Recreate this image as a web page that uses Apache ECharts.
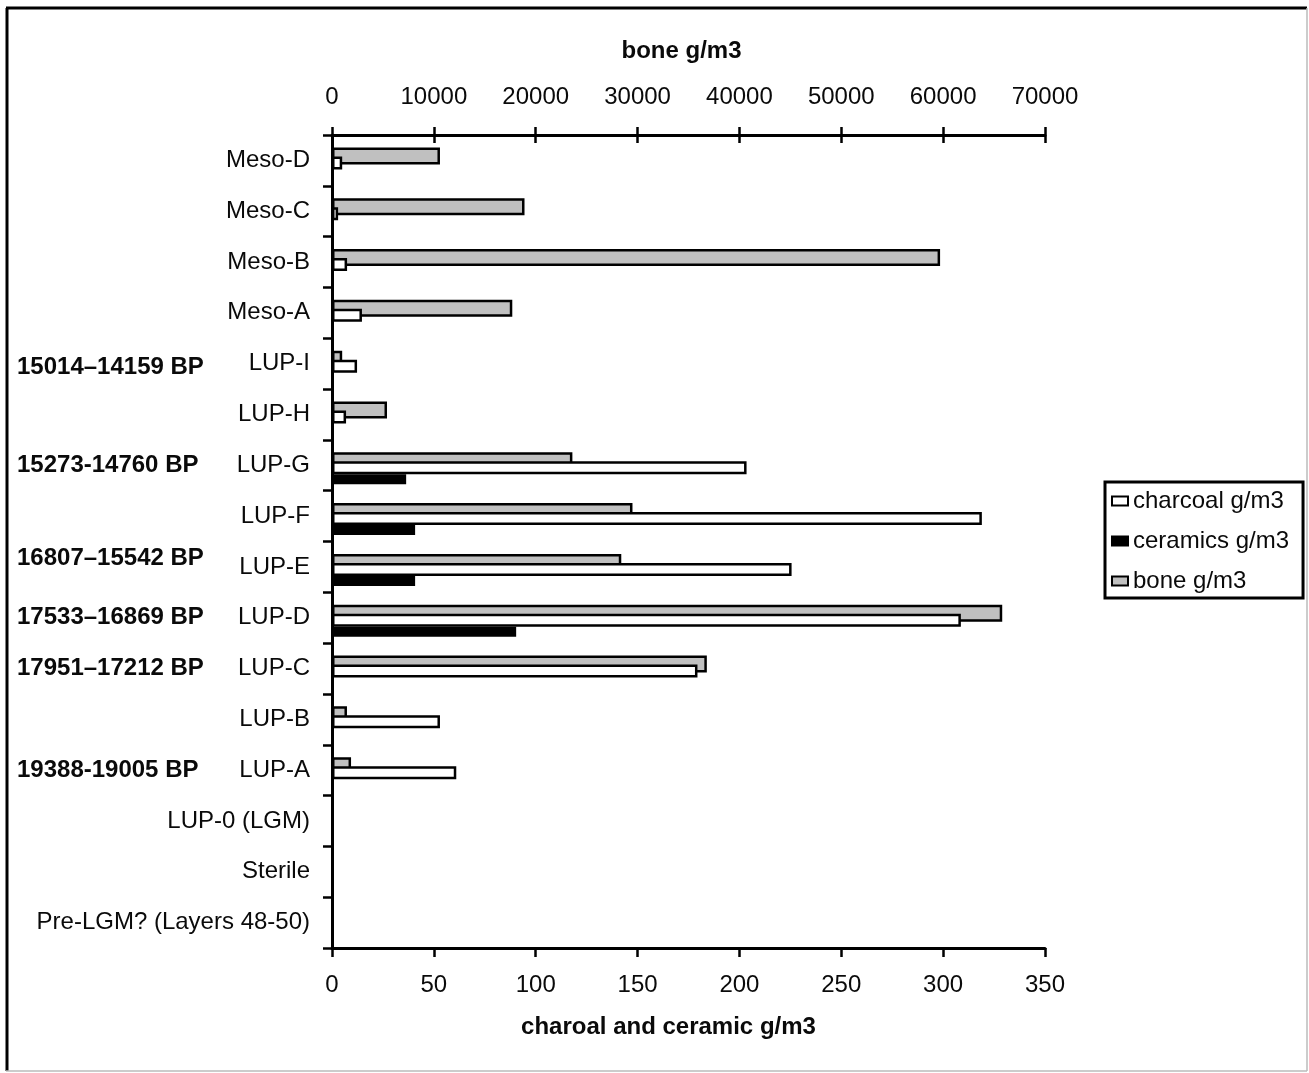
<!DOCTYPE html>
<html><head><meta charset="utf-8">
<script src="https://cdn.jsdelivr.net/npm/echarts@6/dist/echarts.min.js"></script>
<style>html,body{margin:0;padding:0;background:#fff}#c{width:1309px;height:1073px}</style>
</head><body><div id="c"></div>
<script>
const categories = ['Meso-D','Meso-C','Meso-B','Meso-A','LUP-I','LUP-H','LUP-G','LUP-F','LUP-E','LUP-D','LUP-C','LUP-B','LUP-A','LUP-0 (LGM)','Sterile','Pre-LGM? (Layers 48-50)'];
const dateLabels = ['','','','','15014–14159 BP','','15273-14760 BP','','16807–15542 BP','17533–16869 BP','17951–17212 BP','','19388-19005 BP','','',''];
const bone = [10600, 18900, 59700, 17700, 1000, 5400, 23600, 29500, 28400, 65800, 36800, 1470, 1870, null, null, null];
const charcoal = [5, 3, 7.4, 14.7, 12.3, 6.9, 203.5, 319, 225.6, 308.7, 179.4, 53, 61, null, null, null];
const ceramics = [null, null, null, null, null, null, 36.4, 40.8, 40.8, 90.4, null, null, null, null, null, null];
const bottomTicks = {min: 0, max: 350, interval: 50};
const topTicks = {min: 0, max: 70000, interval: 10000};

const FONT = "'Liberation Sans', Arial, sans-serif";
const TXT = '#0a0a0a';
const FS = 24;
const chart = echarts.init(document.getElementById('c'), null, {renderer: 'canvas'});
const tickStyle = {color: '#000', width: 2.5};
const option = {
  animation: false,
  backgroundColor: '#fff',
  textStyle: {fontFamily: FONT},
  grid: {left: 332, right: 264, top: 135, bottom: 125, outerBoundsMode: 'none'},
  legend: {
    data: ['charcoal g/m3', 'ceramics g/m3', 'bone g/m3'],
    orient: 'vertical', left: 1105, top: 482,
    padding: [7, 14, 5, 6], itemGap: 16,
    itemWidth: 16, itemHeight: 9, icon: 'rect',
    borderColor: '#000', borderWidth: 3,
    textStyle: {fontSize: FS, color: TXT, fontFamily: FONT}
  },
  xAxis: [
    {type: 'value', position: 'bottom', min: bottomTicks.min, max: bottomTicks.max, interval: bottomTicks.interval,
     name: 'charoal and ceramic g/m3', nameLocation: 'middle', nameGap: 67,
     nameTextStyle: {fontSize: FS, fontWeight: 'bold', color: TXT, fontFamily: FONT, padding: [0, 40, 0, 0]},
     axisLine: {show: true, onZero: false, lineStyle: {color: '#000', width: 3}},
     axisTick: {show: true, length: 9, lineStyle: tickStyle},
     axisLabel: {fontSize: FS, color: TXT, margin: 25, fontFamily: FONT},
     splitLine: {show: false}},
    {type: 'value', position: 'top', min: topTicks.min, max: topTicks.max, interval: topTicks.interval,
     name: 'bone g/m3', nameLocation: 'middle', nameGap: 72,
     nameTextStyle: {fontSize: FS, fontWeight: 'bold', color: TXT, fontFamily: FONT, padding: [0, 14, 0, 0]},
     axisLine: {show: true, onZero: false, lineStyle: {color: '#000', width: 3}},
     axisTick: {show: true, length: 8, lineStyle: tickStyle},
     axisLabel: {fontSize: FS, color: TXT, margin: 26, fontFamily: FONT, formatter: v => String(v)},
     splitLine: {show: false}},
    {type: 'value', position: 'top', min: topTicks.min, max: topTicks.max, interval: topTicks.interval,
     axisLine: {show: false}, axisLabel: {show: false},
     axisTick: {show: true, inside: true, length: 8, lineStyle: tickStyle},
     splitLine: {show: false}}
  ],
  yAxis: [
    {type: 'category', data: categories, inverse: true, position: 'left',
     axisLine: {show: true, onZero: false, lineStyle: {color: '#000', width: 3}},
     axisTick: {show: true, length: 9, lineStyle: tickStyle},
     axisLabel: {fontSize: FS, color: TXT, margin: 22, fontFamily: FONT},
     splitLine: {show: false}},
    {type: 'category', data: categories, inverse: true, position: 'left',
     axisLine: {show: false}, axisTick: {show: false}, splitLine: {show: false},
     axisLabel: {fontSize: FS, fontWeight: 'bold', color: TXT, align: 'left', margin: 315, fontFamily: FONT,
       formatter: (v, i) => i === 8 ? '{up|' + dateLabels[i] + '}' : (i === 4 ? '{dn|' + dateLabels[i] + '}' : dateLabels[i]),
       rich: {
         up: {fontSize: FS, fontWeight: 'bold', color: TXT, fontFamily: FONT, padding: [0, 0, 18, 0]},
         dn: {fontSize: FS, fontWeight: 'bold', color: TXT, fontFamily: FONT, padding: [8, 0, 0, 0]}
       }}}
  ],
  series: [
    {name: 'bone g/m3', type: 'bar', xAxisIndex: 1, yAxisIndex: 0, data: bone,
     barWidth: 17, barGap: '0%', z: 2,
     itemStyle: {color: '#c0c0c0', borderColor: '#000', borderWidth: 2.5}},
    {name: 'padA', type: 'bar', xAxisIndex: 1, yAxisIndex: 0, data: [], barWidth: 9, barGap: '0%', silent: true},
    {name: 'padB', type: 'bar', xAxisIndex: 0, yAxisIndex: 1, data: [], barWidth: 15, barGap: '0%', silent: true},
    {name: 'charcoal g/m3', type: 'bar', xAxisIndex: 0, yAxisIndex: 1, data: charcoal,
     barWidth: 13, barGap: '0%', z: 3,
     itemStyle: {color: '#ffffff', borderColor: '#000', borderWidth: 2.5}},
    {name: 'ceramics g/m3', type: 'bar', xAxisIndex: 0, yAxisIndex: 1, data: ceramics,
     barWidth: 10, barGap: '0%', z: 3,
     itemStyle: {color: '#000000', borderColor: '#000', borderWidth: 2.5}}
  ],
  graphic: [
    {type: 'line', shape: {x1: 6, y1: 8, x2: 1307, y2: 8}, style: {stroke: '#000', lineWidth: 3}},
    {type: 'line', shape: {x1: 7, y1: 8, x2: 7, y2: 1071}, style: {stroke: '#000', lineWidth: 3}},
    {type: 'line', shape: {x1: 1307, y1: 8, x2: 1307, y2: 1071}, style: {stroke: '#bbb', lineWidth: 1.5}},
    {type: 'line', shape: {x1: 6, y1: 1071, x2: 1307, y2: 1071}, style: {stroke: '#bbb', lineWidth: 1.5}}
  ]
};
chart.setOption(option);
</script>
</body></html>
